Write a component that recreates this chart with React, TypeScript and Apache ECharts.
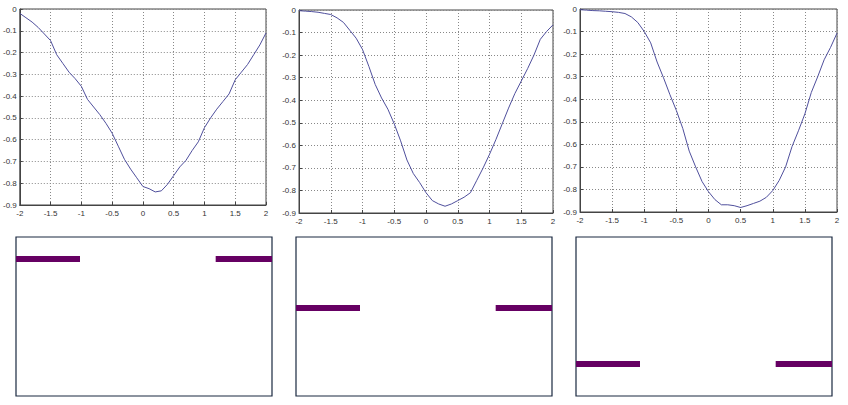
import React, { useEffect, useRef } from "react";
import * as echarts from "echarts";

const xSteps = [
  -2.0, -1.9, -1.8, -1.7, -1.6, -1.5, -1.4, -1.3, -1.2, -1.1, -1.0, -0.9, -0.8, -0.7,
  -0.6, -0.5, -0.4, -0.3, -0.2, -0.1, 0.0, 0.1, 0.2, 0.3, 0.4, 0.5, 0.6, 0.7, 0.8, 0.9,
  1.0, 1.1, 1.2, 1.3, 1.4, 1.5, 1.6, 1.7, 1.8, 1.9, 2.0,
];

const curveA = [
  -0.02, -0.04, -0.06, -0.085, -0.115, -0.145, -0.21, -0.25, -0.29, -0.32, -0.355,
  -0.415, -0.45, -0.485, -0.525, -0.57, -0.63, -0.69, -0.735, -0.775, -0.815, -0.825,
  -0.84, -0.835, -0.805, -0.765, -0.725, -0.695, -0.65, -0.61, -0.545, -0.5, -0.46,
  -0.425, -0.39, -0.325, -0.29, -0.255, -0.21, -0.165, -0.11,
];

const curveB = [
  -0.003, -0.005, -0.007, -0.01, -0.015, -0.02, -0.035, -0.055, -0.09, -0.125, -0.175,
  -0.25, -0.33, -0.39, -0.44, -0.505, -0.58, -0.665, -0.725, -0.765, -0.81, -0.845,
  -0.86, -0.87, -0.86, -0.845, -0.83, -0.81, -0.755, -0.7, -0.64, -0.575, -0.505,
  -0.435, -0.37, -0.315, -0.26, -0.2, -0.13, -0.095, -0.066,
];

const curveC = [
  -0.003, -0.005, -0.007, -0.008, -0.01, -0.012, -0.015, -0.02, -0.035, -0.06, -0.1,
  -0.15, -0.235, -0.305, -0.38, -0.45, -0.53, -0.63, -0.7, -0.765, -0.81, -0.845,
  -0.868, -0.868, -0.872, -0.88, -0.872, -0.862, -0.852, -0.835, -0.805, -0.76, -0.7,
  -0.61, -0.54, -0.465, -0.37, -0.3, -0.225, -0.17, -0.107,
];

const curves = [curveA, curveB, curveC];

// bottom panels: level of the two horizontal bars (0 = bottom, 1 = top)
const barLevels = [0.862, 0.553, 0.201];
const leftSegment = [-2, -1];
const rightSegment = [1.12, 2];

const topGrids = [
  { left: 18, top: 9, width: 248, height: 196 },
  { left: 299, top: 10, width: 254, height: 203 },
  { left: 580, top: 9, width: 257, height: 203 },
];
const bottomGrids = [
  { left: 16, top: 237, width: 256, height: 159 },
  { left: 296, top: 237, width: 256, height: 159 },
  { left: 576, top: 237, width: 256, height: 159 },
];

const LINE_COLOR = "#4f4f9c";
const BAR_COLOR = "#660063";
const labelStyle = { fontSize: 8, fontFamily: "Liberation Sans, Arial, sans-serif", color: "#333" };

export default function App() {
  const ref = useRef<HTMLDivElement>(null);
  useEffect(() => {
    if (!ref.current) return;
    const chart = echarts.init(ref.current, undefined, { renderer: "svg" });
    const grid: any[] = [];
    const xAxis: any[] = [];
    const yAxis: any[] = [];
    const series: any[] = [];

    topGrids.forEach((g, i) => {
      grid.push({ ...g, show: true, borderColor: "#444", borderWidth: 1, backgroundColor: "#fff" });
      xAxis.push({
        type: "value",
        gridIndex: i,
        min: -2,
        max: 2,
        interval: 0.5,
        axisLine: { show: true, onZero: false, lineStyle: { color: "#444", width: 1 } },
        axisTick: { show: true, inside: true, length: 3, lineStyle: { color: "#444" } },
        axisLabel: { ...labelStyle, margin: 4 },
        splitLine: { show: true, lineStyle: { color: "#888", type: [1, 2], width: 1 } },
      });
      yAxis.push({
        type: "value",
        gridIndex: i,
        min: -0.9,
        max: 0,
        interval: 0.1,
        axisLine: { show: true, onZero: false, lineStyle: { color: "#444", width: 1 } },
        axisTick: { show: true, inside: true, length: 3, lineStyle: { color: "#444" } },
        axisLabel: {
          ...labelStyle,
          margin: 3,
          formatter: (v: number) => {
            const r = Math.round(v * 10) / 10;
            return r === 0 ? "0" : String(r);
          },
        },
        splitLine: { show: true, lineStyle: { color: "#888", type: [1, 2], width: 1 } },
      });
      series.push({
        type: "line",
        xAxisIndex: i,
        yAxisIndex: i,
        data: xSteps.map((x, k) => [x, curves[i][k]]),
        showSymbol: false,
        symbol: "none",
        lineStyle: { color: LINE_COLOR, width: 1 },
        silent: true,
        z: 3,
      });
    });

    bottomGrids.forEach((g, j) => {
      const i = j + 3;
      grid.push({ ...g, show: true, borderColor: "#1a2840", borderWidth: 1.2, backgroundColor: "#fff" });
      xAxis.push({ type: "value", gridIndex: i, min: -2, max: 2, show: false });
      yAxis.push({ type: "value", gridIndex: i, min: 0, max: 1, show: false });
      const lvl = barLevels[j];
      [leftSegment, rightSegment].forEach((seg) => {
        series.push({
          type: "line",
          xAxisIndex: i,
          yAxisIndex: i,
          data: [
            [seg[0], lvl],
            [seg[1], lvl],
          ],
          showSymbol: false,
          symbol: "none",
          lineStyle: { color: BAR_COLOR, width: 6, cap: "butt" },
          silent: true,
        });
      });
    });

    chart.setOption({
      animation: false,
      backgroundColor: "#fff",
      grid,
      xAxis,
      yAxis,
      series,
    });
    return () => chart.dispose();
  }, []);

  return (
    <div
      ref={ref}
      style={{ position: "fixed", left: 0, top: 0, width: 848, height: 405, background: "#fff" }}
    />
  );
}
